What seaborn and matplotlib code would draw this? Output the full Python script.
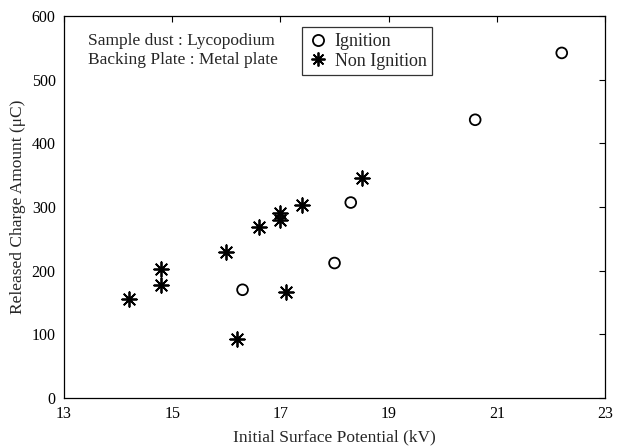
import matplotlib
matplotlib.use("Agg")
import matplotlib.pyplot as plt
import seaborn as sns
import pandas as pd
from matplotlib.lines import Line2D

# Data
ign_x = [16.3, 18.0, 18.3, 20.6, 22.2]
ign_y = [170, 212, 307, 437, 542]

non_x = [14.2, 14.8, 14.8, 16.0, 16.2, 16.6, 17.0, 17.0, 17.1, 17.4, 18.5]
non_y = [155, 203, 178, 230, 93, 268, 290, 280, 167, 303, 345]

x_ticks = [13, 15, 17, 19, 21, 23]
y_ticks = [0, 100, 200, 300, 400, 500, 600]

sns.set_style("white")
plt.rcParams['font.family'] = ['Liberation Serif', 'DejaVu Serif']

fig = plt.figure(figsize=(6.18, 4.48), dpi=100)
ax = fig.add_axes([0.1036, 0.1116, 0.8754, 0.8527])

df_i = pd.DataFrame({"x": ign_x, "y": ign_y})
df_n = pd.DataFrame({"x": non_x, "y": non_y})

star = (8, 2, 0)
sns.scatterplot(data=df_i, x="x", y="y", ax=ax, marker="o", s=60,
                facecolors="none", edgecolor="black", linewidth=1.3, zorder=3)
sns.scatterplot(data=df_n, x="x", y="y", ax=ax, marker=star, s=110,
                color="black", edgecolor="black", linewidth=1.3, zorder=3)

ax.set_xlim(13, 23)
ax.set_ylim(0, 600)
ax.set_xticks(x_ticks)
ax.set_yticks(y_ticks)
ax.tick_params(direction="in", length=4, width=0.8, labelsize=11.5,
               top=True, right=True, colors="black", pad=6)
for sp in ax.spines.values():
    sp.set_color("black")
    sp.set_linewidth(0.9)

ax.set_xlabel("Initial Surface Potential (kV)", fontsize=12.5, labelpad=5)
ax.set_ylabel("Released Charge Amount (μC)", fontsize=12.5, labelpad=4)

ax.text(0.045, 0.955, "Sample dust : Lycopodium\nBacking Plate : Metal plate",
        transform=ax.transAxes, fontsize=12.5, va="top", ha="left",
        linespacing=1.25)

handles = [
    Line2D([], [], marker="o", linestyle="none", markerfacecolor="none",
           markeredgecolor="black", markersize=8, markeredgewidth=1.3),
    Line2D([], [], marker=star, linestyle="none", color="black",
           markersize=10, markeredgewidth=1.3),
]
leg = ax.legend(handles, ["Ignition", "Non Ignition"], loc="upper left",
                bbox_to_anchor=(0.44, 0.97), frameon=True, fancybox=False,
                fontsize=13, handletextpad=0.3, borderpad=0.3,
                labelspacing=0.15, handlelength=1.2, borderaxespad=0)
leg.get_frame().set_edgecolor("black")
leg.get_frame().set_linewidth(0.9)

fig.savefig("out.png", dpi=100)
